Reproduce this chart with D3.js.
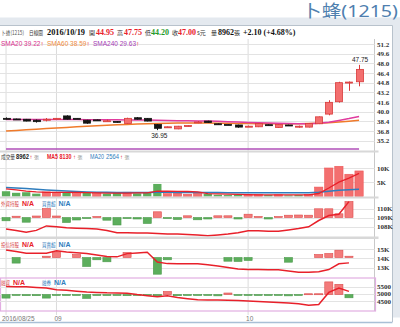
<!DOCTYPE html>
<html>
<head>
<meta charset="utf-8">
<script src="https://cdn.jsdelivr.net/npm/d3@7"></script>
<style>
    html, body { margin: 0; padding: 0; background: #fff; }
    svg { display: block; }
</style>
</head>
<body>
<svg id="chart" width="400" height="327"></svg>
<script>
// ---- data ----
const dates = [
    '2016-08-25', '2016-08-26', '2016-08-29', '2016-08-30', '2016-08-31',
    '2016-09-01', '2016-09-02', '2016-09-05', '2016-09-06', '2016-09-07', '2016-09-08', '2016-09-09',
    '2016-09-12', '2016-09-13', '2016-09-14', '2016-09-19', '2016-09-20', '2016-09-21', '2016-09-22',
    '2016-09-23', '2016-09-26', '2016-09-28', '2016-09-29', '2016-09-30',
    '2016-10-03', '2016-10-04', '2016-10-05', '2016-10-06', '2016-10-07', '2016-10-11', '2016-10-12',
    '2016-10-13', '2016-10-14', '2016-10-17', '2016-10-18', '2016-10-19'
];
const open = [38.90, 38.80, 38.75, 38.60, 38.65, 38.85, 39.30, 38.90, 38.60, 38.65, 38.45, 38.40, 38.05, 39.00, 38.90, 37.90, 37.40, 37.15, 37.60, 38.25, 38.45, 38.00, 37.90, 37.80, 37.55, 37.50, 37.85, 37.40, 37.80, 37.55, 37.45, 38.00, 39.60, 41.65, 44.85, 44.95];
const high = [39.05, 38.85, 38.80, 38.70, 38.95, 38.95, 39.40, 38.95, 38.65, 38.70, 38.70, 38.45, 39.00, 39.10, 38.95, 37.95, 37.55, 37.65, 37.75, 38.45, 38.50, 38.05, 37.95, 37.85, 37.70, 38.10, 37.90, 37.95, 37.85, 37.70, 38.10, 39.20, 41.90, 44.95, 45.00, 47.75];
const low = [38.75, 38.70, 38.40, 38.20, 38.40, 38.80, 38.70, 38.85, 38.00, 38.55, 38.40, 38.20, 38.00, 38.70, 38.40, 36.95, 37.35, 37.10, 37.55, 38.10, 38.15, 37.90, 37.85, 37.35, 37.50, 37.45, 37.75, 37.35, 37.75, 37.35, 37.40, 37.95, 39.40, 41.50, 43.45, 44.20];
const close = [38.90, 38.75, 38.45, 38.35, 38.75, 38.90, 38.75, 38.85, 38.10, 38.60, 38.50, 38.25, 38.90, 38.75, 38.45, 37.25, 37.50, 37.60, 37.70, 38.30, 38.20, 37.95, 37.85, 37.45, 37.60, 38.05, 37.80, 37.90, 37.80, 37.60, 38.05, 39.15, 41.55, 44.80, 44.90, 47.00];

const sma20 = [38.72, 38.72, 38.71, 38.70, 38.70, 38.70, 38.70, 38.69, 38.68, 38.67, 38.66, 38.65, 38.64, 38.63, 38.62, 38.58, 38.55, 38.52, 38.50, 38.48, 38.45, 38.40, 38.35, 38.28, 38.22, 38.18, 38.14, 38.10, 38.06, 38.02, 38.00, 38.08, 38.25, 38.55, 38.86, 39.22];
const sma60 = [36.80, 36.90, 37.00, 37.10, 37.20, 37.30, 37.40, 37.49, 37.58, 37.66, 37.74, 37.82, 37.90, 37.96, 38.02, 38.06, 38.09, 38.11, 38.12, 38.13, 38.12, 38.10, 38.08, 38.06, 38.04, 38.02, 38.01, 38.00, 38.00, 38.01, 38.03, 38.08, 38.16, 38.28, 38.42, 38.59];
const sma240 = [29.42, 29.43, 29.43, 29.44, 29.44, 29.45, 29.45, 29.46, 29.46, 29.47, 29.47, 29.48, 29.48, 29.49, 29.49, 29.50, 29.50, 29.51, 29.51, 29.52, 29.52, 29.53, 29.53, 29.54, 29.54, 29.55, 29.55, 29.56, 29.56, 29.57, 29.57, 29.58, 29.59, 29.60, 29.62, 29.63];

const volume = [1850, 1300, 1500, 1000, 1600, 1500, 1300, 1000, 1300, 1100, 1000, 1200, 1500, 1100, 1300, 4400, 1000, 1300, 800, 1200, 900, 600, 500, 700, 600, 700, 500, 600, 400, 500, 700, 3300, 10000, 10600, 7800, 8962];
const volMa5 = [2700, 2300, 1900, 1600, 1450, 1450, 1450, 1400, 1350, 1250, 1150, 1150, 1200, 1250, 1250, 1900, 1850, 1800, 1750, 1650, 1000, 950, 850, 750, 650, 600, 600, 600, 550, 550, 550, 1050, 2980, 5020, 6480, 8130];
const volMa20 = [3200, 3000, 2800, 2550, 2300, 2100, 1900, 1750, 1600, 1500, 1450, 1400, 1400, 1400, 1400, 1450, 1450, 1400, 1400, 1400, 1380, 1360, 1340, 1320, 1300, 1300, 1300, 1300, 1300, 1300, 1320, 1450, 1850, 2200, 2400, 2564];

// 外資: net buy/sell (張) and holdings (K 張)
const foreignNet = [-165, 65, -235, 75, 450, 75, -250, -125, -35, 50, -135, -375, -25, -75, -300, 285, -50, -100, 85, -115, -75, 85, 85, -75, 165, 50, -75, 50, 115, 125, 115, 435, 435, 185, 800, null];
const foreignHold = [107.75, 107.60, 107.40, 107.60, 108.10, 108.00, 107.90, 107.85, 107.80, 107.75, 107.60, 107.35, 107.35, 107.30, 107.30, 107.25, 107.20, 107.20, 107.15, 107.10, 107.00, 107.10, 107.20, 107.35, 107.55, 107.55, 107.50, 107.50, 107.65, 107.80, 108.00, 108.70, 109.25, 109.40, 110.80, null];
// 投信
const trustNet = [0, -280, 0, 0, 65, 285, 0, 150, -450, -115, -215, 0, 250, 0, 0, -835, -115, 0, 0, 0, 0, 0, -185, -200, -150, 0, 0, 0, -235, 0, 0, 150, 200, 365, 65, null];
const trustHold = [14.90, 14.72, 14.55, 14.55, 14.55, 14.80, 14.68, 14.60, 14.52, 14.35, 14.20, 14.15, 14.50, 14.58, 14.65, 13.60, 13.42, 13.40, 13.40, 13.40, 13.30, 13.15, 13.00, 12.85, 12.78, 12.78, 12.76, 12.75, 12.62, 12.48, 12.48, 12.55, 12.78, 13.40, 13.50, null];
// 融資
const marginChg = [-120, -20, -40, -40, -120, -25, -25, -20, -130, -35, -35, -20, -40, -30, -30, -40, 100, -40, -35, -30, -25, -45, 50, -20, -30, -35, -35, -25, -45, -30, 25, 25, 420, 340, -110, null];
const marginBal = [5500, 5490, 5480, 5440, 5400, 5280, 5240, 5180, 5130, 5100, 5070, 5060, 5050, 4955, 4880, 4800, 4880, 4760, 4680, 4600, 4590, 4580, 4570, 4550, 4515, 4480, 4450, 4420, 4380, 4330, 4240, 4290, 5100, 5400, 5170, null];

const priceTicks = [35.2, 36.8, 38.4, 40.0, 41.6, 43.2, 44.8, 46.4, 48.0, 49.6, 51.2];
const volTicks = [5000, 10000];
const foreignTicks = [108, 109, 110];
const trustTicks = [13, 14, 15];
const marginTicks = [4500, 5000, 5500];

// ---- drawing ----
const CJK = 'Noto Sans CJK TC';
const SERIF = 'Liberation Serif';
const SANS = 'Liberation Sans';
const RED = '#e8202a';
const BLUE = '#2f7dbd';
const UPFILL = '#f36f6f';
const UPLINE = '#d93a3a';
const GREEN = '#5cae5c';
const GRID = '#e3e3e3';
const plotRight = 374.5;

const svg = d3.select('#chart');
const n = dates.length;
const idx = d3.range(n);
const f2 = d3.format('.2f');

function addText(parent, xp, yp, str, o = {}) {
    const t = parent.append('text')
        .attr('x', xp).attr('y', yp)
        .attr('font-size', o.size || 7)
        .attr('font-family', o.font || SANS)
        .attr('font-weight', o.bold ? 'bold' : null)
        .attr('fill', o.color || '#333')
        .attr('text-anchor', o.anchor || 'start')
        .text(str);
    if (o.len) t.attr('textLength', o.len).attr('lengthAdjust', 'spacingAndGlyphs');
    return t;
}

// page background pieces
svg.append('rect').attr('x', 0).attr('y', 17.5).attr('width', 400).attr('height', 8).attr('fill', '#e4e9ef');
svg.append('rect').attr('x', 392.5).attr('y', 17.5).attr('width', 8).attr('height', 300).attr('fill', '#e4e9ef');
svg.append('line').attr('x1', 0).attr('x2', 392.5).attr('y1', 25.5).attr('y2', 25.5).attr('stroke', '#b8c2cc');
svg.append('line').attr('x1', 392.5).attr('x2', 392.5).attr('y1', 25.5).attr('y2', 322).attr('stroke', '#b8c2cc');
svg.append('line').attr('x1', 0).attr('x2', 392.5).attr('y1', 322.5).attr('y2', 322.5).attr('stroke', '#a9c0d6').attr('stroke-width', 1.5);

addText(svg, 398, 16.5, '卜蜂(1215)', {size: 17, font: 'Noto Sans, ' + CJK, color: '#4f7faf', anchor: 'end', len: 96});

// x scale: one band per trading day
const x = d3.scaleBand().domain(dates).range([1, 364.1]);
const cx = i => x(dates[i]) + x.bandwidth() / 2;
const bw = x.bandwidth();

// month-start vertical grid lines + bottom labels
const monthStarts = idx.filter(i => i === 0 || dates[i].slice(5, 7) !== dates[i - 1].slice(5, 7));
svg.append('g').selectAll('line').data(monthStarts).join('line')
    .attr('x1', i => cx(i)).attr('x2', i => cx(i))
    .attr('y1', 39).attr('y2', 315)
    .attr('stroke', '#dcdcdc');
svg.append('g').selectAll('text').data(monthStarts).join('text')
    .attr('x', i => i === 0 ? 2 : cx(i) - 2)
    .attr('y', 320.5)
    .attr('font-size', 6.5).attr('font-family', SANS).attr('fill', '#777')
    .text(i => i === 0 ? dates[i].replace(/-/g, '/') : dates[i].slice(5, 7));

// right plot edge
svg.append('line').attr('x1', plotRight).attr('x2', plotRight).attr('y1', 39).attr('y2', 311).attr('stroke', '#c9c9c9');

function gridAndLabels(ticks, scale, fmt) {
    const g = svg.append('g');
    g.selectAll('line').data(ticks).join('line')
        .attr('x1', 0).attr('x2', plotRight)
        .attr('y1', d => Math.round(scale(d)) + 0.5).attr('y2', d => Math.round(scale(d)) + 0.5)
        .attr('stroke', GRID);
    g.selectAll('text').data(ticks).join('text')
        .attr('x', 377).attr('y', d => scale(d) + 2.5)
        .attr('font-size', 7).attr('font-family', SERIF).attr('font-weight', 'bold').attr('fill', '#333')
        .text(fmt);
}

function separator(y0, h) {
    svg.append('rect').attr('x', 0).attr('y', y0).attr('width', plotRight + 4).attr('height', h).attr('fill', '#d8d8d8');
}

// ---- header row ----
const last = n - 1;
const chg = close[last] - close[last - 1];
const header = svg.append('g');
addText(header, 1, 35, '卜蜂(1215)', {size: 6, font: CJK, color: '#555', len: 23});
addText(header, 29, 35, '日線圖', {size: 6, font: CJK, color: '#333', len: 14});
addText(header, 47, 35, dates[last].replace(/-/g, '/'), {size: 8.5, font: SERIF, bold: true, color: '#111', len: 38});
addText(header, 89, 35, '開', {size: 6, font: CJK});
addText(header, 96, 35, f2(open[last]), {size: 8, font: SERIF, bold: true, color: RED});
addText(header, 117, 35, '高', {size: 6, font: CJK});
addText(header, 124, 35, f2(high[last]), {size: 8, font: SERIF, bold: true, color: RED});
addText(header, 145, 35, '低', {size: 6, font: CJK});
addText(header, 151, 35, f2(low[last]), {size: 8, font: SERIF, bold: true, color: '#1f9a2a'});
addText(header, 172, 35, '收', {size: 6, font: CJK});
addText(header, 178, 35, f2(close[last]), {size: 8, font: SERIF, bold: true, color: RED});
addText(header, 197, 35, 's元', {size: 6, font: CJK});
addText(header, 211, 35, '量', {size: 6, font: CJK});
addText(header, 218, 35, volume[last], {size: 8, font: SERIF, bold: true, color: '#111'});
addText(header, 234, 35, '張', {size: 6, font: CJK});
addText(header, 243, 35, d3.format('+.2f')(chg) + ' (' + d3.format('+.2%')(chg / close[last - 1]) + ')',
    {size: 8, font: SERIF, bold: true, color: '#111'});

// ---- price pane ----
const yPrice = d3.scaleLinear().domain([35.2, 51.2]).range([140.7, 44]);
const yPriceClamp = yPrice.copy().domain([yPrice.invert(149), 51.2]).range([149, 44]).clamp(true);
gridAndLabels(priceTicks, yPrice, d3.format('.1f'));

const smaLabels = [
    {x: 1, name: 'SMA20', v: sma20[last], color: '#d9308e'},
    {x: 47, name: 'SMA60', v: sma60[last], color: '#ef8a3c'},
    {x: 93, name: 'SMA240', v: sma240[last], color: '#a53cb5'},
];
for (const s of smaLabels) {
    const t = addText(svg, s.x, 46, s.name + ' ' + f2(s.v), {size: 6.5, color: s.color});
    t.append('tspan').attr('fill', RED).attr('font-weight', 'bold').text('↑');
}

const lineOf = (arr, scale) => d3.line().defined(i => arr[i] != null).x(i => cx(i)).y(i => scale(arr[i]));

svg.append('path').attr('d', lineOf(sma240, yPriceClamp)(idx)).attr('fill', 'none')
    .attr('stroke', '#b04fb8').attr('stroke-width', 1.5);
svg.append('path').attr('d', lineOf(sma60, yPrice)(idx)).attr('fill', 'none')
    .attr('stroke', '#f07a2a').attr('stroke-width', 1.5);
svg.append('path').attr('d', lineOf(sma20, yPrice)(idx)).attr('fill', 'none')
    .attr('stroke', '#e03c9e').attr('stroke-width', 1.5);

const isUp = i => close[i] > open[i];
const candleW = 7;
const candles = svg.append('g');
candles.selectAll('line').data(idx).join('line')
    .attr('x1', i => Math.round(cx(i)) + 0.5).attr('x2', i => Math.round(cx(i)) + 0.5)
    .attr('y1', i => yPrice(high[i])).attr('y2', i => yPrice(low[i]))
    .attr('stroke', i => isUp(i) ? UPLINE : '#111');
candles.selectAll('rect').data(idx).join('rect')
    .attr('x', i => Math.round(cx(i) - candleW / 2) + 0.5)
    .attr('y', i => yPrice(Math.max(open[i], close[i])))
    .attr('width', candleW)
    .attr('height', i => Math.max(1, yPrice(Math.min(open[i], close[i])) - yPrice(Math.max(open[i], close[i]))))
    .attr('fill', i => isUp(i) ? UPFILL : '#151515')
    .attr('stroke', i => isUp(i) ? UPLINE : '#151515')
    .attr('stroke-width', 0.8);

const hiI = d3.maxIndex(high);
const loI = d3.minIndex(low);
addText(svg, cx(hiI) + 1, yPrice(high[hiI]) - 2.5, f2(high[hiI]), {size: 6.5, color: '#222', anchor: 'middle'});
addText(svg, cx(loI) + 2, yPrice(low[loI]) + 7.5, f2(low[loI]), {size: 6.5, color: '#222', anchor: 'middle'});

separator(150.5, 2);

// ---- volume pane ----
const yVol = d3.scaleLinear().domain([0, 10000]).range([196.5, 168]);
gridAndLabels(volTicks, yVol, d => (d / 1000) + 'K');
const volHead = svg.append('g');
const vy = 158.5;
addText(volHead, 1, vy, '成交量', {size: 5.5, font: CJK, color: '#444', len: 14});
addText(volHead, 16, vy, volume[last], {size: 6.5, bold: true, color: '#222', len: 13});
addText(volHead, 29.5, vy, '↑', {size: 6, bold: true, color: RED});
addText(volHead, 34, vy, '張', {size: 5, font: CJK, color: '#888'});
addText(volHead, 47, vy, 'MA5', {size: 6.5, bold: true, color: RED, len: 11});
addText(volHead, 59.5, vy, volMa5[last], {size: 6.5, bold: true, color: RED, len: 12});
addText(volHead, 73, vy, '↑', {size: 6, bold: true, color: RED});
addText(volHead, 77.5, vy, '張', {size: 5, font: CJK, color: '#888'});
addText(volHead, 90, vy, 'MA20', {size: 6.5, color: BLUE, len: 14});
addText(volHead, 106, vy, volMa20[last], {size: 6.5, color: BLUE, len: 13});
addText(volHead, 120, vy, '↑', {size: 6, bold: true, color: RED});
addText(volHead, 124.5, vy, '張', {size: 5, font: CJK, color: '#888'});

const volColor = i => i === 0 ? GREEN : close[i] > close[i - 1] ? UPFILL : close[i] < close[i - 1] ? GREEN : '#555';
const volW = bw * 0.82;
svg.append('g').selectAll('rect').data(idx).join('rect')
    .attr('x', i => cx(i) - volW / 2)
    .attr('y', i => yVol(volume[i]))
    .attr('width', volW)
    .attr('height', i => yVol(0) - yVol(volume[i]))
    .attr('fill', volColor)
    .attr('stroke', i => volColor(i) === UPFILL ? '#e55' : 'none')
    .attr('stroke-width', 0.6);
svg.append('path').attr('d', lineOf(volMa20, yVol)(idx)).attr('fill', 'none')
    .attr('stroke', BLUE).attr('stroke-width', 1.5);
svg.append('path').attr('d', lineOf(volMa5, yVol)(idx)).attr('fill', 'none')
    .attr('stroke', RED).attr('stroke-width', 1.3);

separator(196.5, 2);

// ---- institutional / margin panes ----
function flowPane(o) {
    gridAndLabels(o.ticks, o.yLine, o.fmt);
    const w1 = o.names[0].length * 4.5;
    const w2 = o.names[1].length * 4.5;
    addText(svg, 1, o.headY, o.names[0], {size: 5.5, font: CJK, color: '#d8464a', len: w1});
    addText(svg, 4 + w1, o.headY, 'N/A', {size: 6.5, bold: true, color: RED, len: 12});
    addText(svg, 42, o.headY, o.names[1], {size: 5.5, font: CJK, color: BLUE, len: w2});
    addText(svg, 45 + w2, o.headY, 'N/A', {size: 6.5, bold: true, color: BLUE, len: 12});

    const w = bw * 0.8;
    const pts = idx.filter(i => o.bars[i] != null && o.bars[i] !== 0);
    svg.append('g').selectAll('rect').data(pts).join('rect')
        .attr('x', i => cx(i) - w / 2)
        .attr('y', i => Math.min(o.yBar(o.bars[i]), o.yBar(0)))
        .attr('width', w)
        .attr('height', i => Math.max(1, Math.abs(o.yBar(o.bars[i]) - o.yBar(0))))
        .attr('fill', i => o.bars[i] > 0 ? '#f37b7b' : GREEN)
        .attr('stroke', i => o.bars[i] > 0 ? '#dd4c4c' : '#4c9a4c')
        .attr('stroke-width', 0.6);
    svg.append('path').attr('d', lineOf(o.line, o.yLine)(idx)).attr('fill', 'none')
        .attr('stroke', RED).attr('stroke-width', 1.5);
}

flowPane({
    names: ['外資持股', '買賣超'], headY: 205.5,
    ticks: foreignTicks, fmt: d => d + 'K',
    yLine: d3.scaleLinear().domain([108, 110]).range([226.8, 208.8]),
    yBar: d3.scaleLinear().domain([-400, 400]).range([225.5, 209.5]),
    bars: foreignNet, line: foreignHold,
});
separator(236.5, 2.5);

flowPane({
    names: ['投信持股', '買賣超'], headY: 246.5,
    ticks: trustTicks, fmt: d => d + 'K',
    yLine: d3.scaleLinear().domain([13, 15]).range([267.5, 249]),
    yBar: d3.scaleLinear().domain([-400, 400]).range([265.5, 249.5]),
    bars: trustNet, line: trustHold,
});

svg.append('rect').attr('x', 0.5).attr('y', 278).attr('width', plotRight + 0.5).attr('height', 33)
    .attr('fill', 'none').attr('stroke', '#e2aee2').attr('stroke-width', 1.2);
flowPane({
    names: ['融資', '融券'], headY: 284.5,
    ticks: marginTicks, fmt: d => d,
    yLine: d3.scaleLinear().domain([4500, 5500]).range([301.3, 286.5]),
    yBar: d3.scaleLinear().domain([-300, 300]).range([303.5, 285.5]),
    bars: marginChg, line: marginBal,
});
</script>
</body>
</html>
